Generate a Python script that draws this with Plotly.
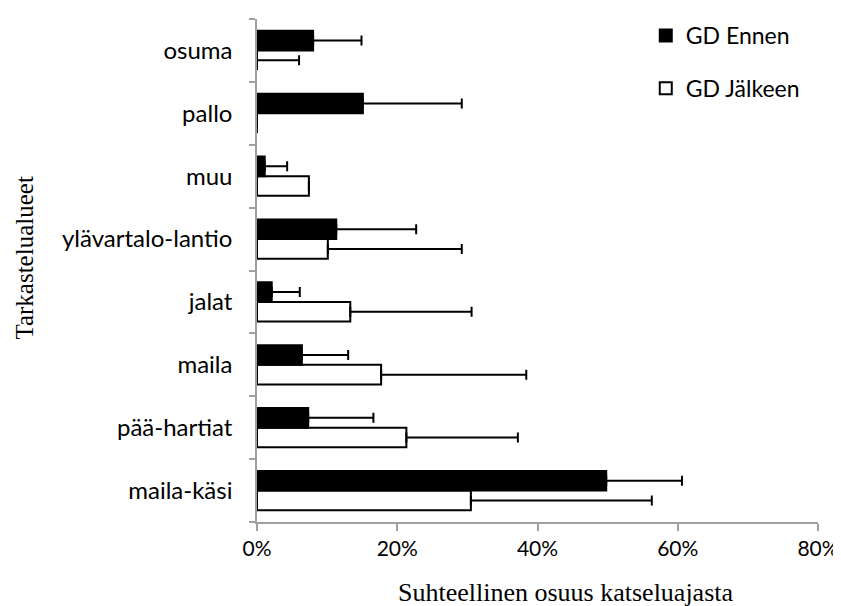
import plotly.graph_objects as go

categories = ["maila-käsi", "pää-hartiat", "maila", "jalat", "ylävartalo-lantio", "muu", "pallo", "osuma"]
ennen = [49.8, 7.3, 6.4, 2.1, 11.3, 1.1, 15.1, 8.0]
ennen_err = [10.8, 9.3, 6.6, 4.0, 11.4, 3.2, 14.1, 6.9]
jalkeen = [30.5, 21.3, 17.7, 13.3, 10.1, 7.4, 0.0, 0.0]
jalkeen_err = [25.8, 15.9, 20.7, 17.3, 19.1, 0.0, 0.0, 6.0]
x_ticks = [0, 20, 40, 60, 80]
x_tick_labels = ["0%", "20%", "40%", "60%", "80%"]

fig = go.Figure()
fig.add_trace(go.Bar(
    y=categories, x=jalkeen, orientation="h", name="GD Jälkeen",
    legendgroup="b", legendrank=2,
    marker=dict(color="white", line=dict(color="black", width=2)),
    error_x=dict(type="data", array=jalkeen_err, symmetric=False, arrayminus=[0]*8,
                 color="black", thickness=2, width=5),
))
fig.add_trace(go.Bar(
    y=categories, x=ennen, orientation="h", name="GD Ennen",
    legendgroup="a", legendrank=1,
    marker=dict(color="black", line=dict(color="black", width=2)),
    error_x=dict(type="data", array=ennen_err, symmetric=False, arrayminus=[0]*8,
                 color="black", thickness=2, width=5),
))

serif = "Liberation Serif, Times New Roman, serif"
# page body has an 8px margin: figure drawn at (8, 8)
fig.update_layout(
    width=833, height=598,
    margin=dict(l=249, r=23, t=6, b=84),
    paper_bgcolor="white", plot_bgcolor="white",
    barmode="group", bargap=0.375, bargroupgap=0,
    font=dict(family="Lato, Open Sans, sans-serif", size=24, color="black"),
    legend=dict(x=0.693, y=1.01, xanchor="left", yanchor="top", traceorder="grouped",
                font=dict(size=23), tracegroupgap=20, itemsizing="constant",
                bgcolor="rgba(0,0,0,0)"),
    showlegend=True,
    annotations=[
        dict(text="Suhteellinen osuus katseluajasta", xref="paper", yref="paper",
             x=(566 - 257) / 561, y=-(593 - 522) / 508, xanchor="center", yanchor="middle",
             showarrow=False, font=dict(family=serif, size=26)),
        dict(text="Tarkastelualueet", xref="paper", yref="paper", textangle=-90,
             x=-(257 - 25) / 561, y=(522 - 256) / 508, xanchor="center", yanchor="middle",
             showarrow=False, font=dict(family=serif, size=25)),
    ],
)
fig.update_xaxes(
    range=[0, 80], tickvals=x_ticks, ticktext=x_tick_labels, automargin=False,
    showgrid=False, zeroline=False, showline=True, linecolor="#a0a0a0", linewidth=1.5,
    ticks="outside", tickcolor="#a0a0a0", ticklen=7, tickwidth=1.5,
    tickfont=dict(size=21),
)
fig.update_yaxes(
    automargin=False,
    showgrid=False, zeroline=False, showline=True, linecolor="#a0a0a0", linewidth=1.5,
    ticks="outside", tickcolor="#a0a0a0", ticklen=6, tickwidth=1.5,
    tickson="boundaries", tickfont=dict(size=24), ticklabelstandoff=18,
)

fig.write_html("out.html")
